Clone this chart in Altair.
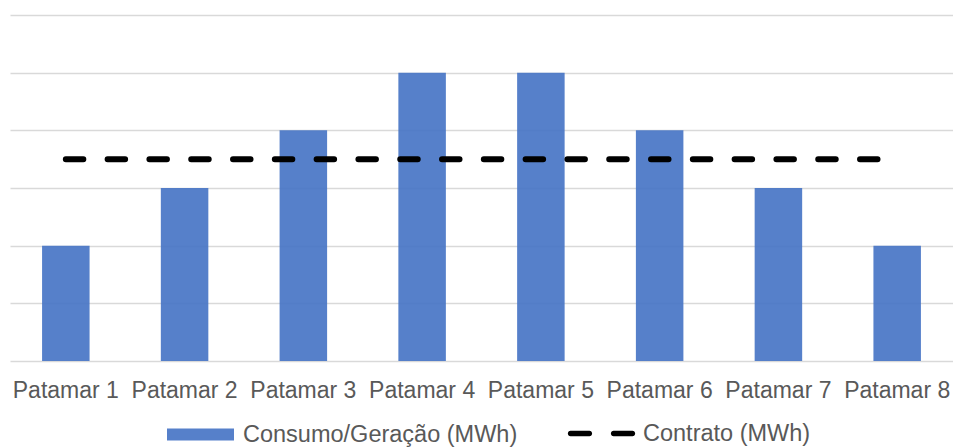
import altair as alt
import pandas as pd

categorias = ["Patamar 1", "Patamar 2", "Patamar 3", "Patamar 4",
              "Patamar 5", "Patamar 6", "Patamar 7", "Patamar 8"]
consumo = [2, 3, 4, 5, 5, 4, 3, 2]
contrato = [3.5, 3.5, 3.5, 3.5, 3.5, 3.5, 3.5, 3.5]
serie_barra = "Consumo/Geração (MWh)"
serie_linha = "Contrato (MWh)"

df_bar = pd.DataFrame({"cat": categorias, "valor": consumo, "serie": serie_barra})
df_line = pd.DataFrame({"cat": categorias, "valor": contrato, "serie": serie_linha})

FONT = "Liberation Sans"
TXT = "#595959"
BLUE = "#4472C4"

rect_path = "M-1,-0.18H1V0.18H-1Z"
dash_path = ("M-0.925,-0.08H-0.36A0.08,0.08 0 0 1 -0.36,0.08H-0.925A0.08,0.08 0 0 1 -0.925,-0.08Z "
             "M0.36,-0.08H0.925A0.08,0.08 0 0 1 0.925,0.08H0.36A0.08,0.08 0 0 1 0.36,-0.08Z")

common_legend = dict(
    title=None,
    orient="none",
    direction="horizontal",
    padding=0,
    labelFont=FONT,
    labelFontSize=23.5,
    labelColor=TXT,
    labelLimit=400,
    labelOffset=8,
    symbolSize=4489,
)

legend_bar = alt.Legend(legendX=156, legendY=385, symbolType=rect_path, **common_legend)
legend_line = alt.Legend(legendX=558, legendY=385, symbolType=dash_path,
                         symbolFillColor="black", symbolStrokeColor="black",
                         symbolStrokeWidth=0, symbolOpacity=1, **common_legend)

x = alt.X(
    "cat:N",
    sort=categorias,
    scale=alt.Scale(paddingInner=0.6, paddingOuter=0.27),
    axis=alt.Axis(title=None, labelAngle=0, ticks=False, domain=False, grid=False,
                  labelFont=FONT, labelFontSize=23, labelColor=TXT, labelPadding=18,
                  labelOverlap=False, labelLimit=300),
)
y = alt.Y(
    "valor:Q",
    scale=alt.Scale(domain=[0, 6], nice=False),
    axis=alt.Axis(title=None, labels=False, ticks=False, domain=False,
                  values=[0, 1, 2, 3, 4, 5, 6], gridColor="#d9d9d9", gridWidth=1.5),
)

bars = alt.Chart(df_bar).mark_bar(opacity=0.9).encode(
    x=x, y=y,
    color=alt.Color("serie:N", scale=alt.Scale(domain=[serie_barra], range=[BLUE]), legend=legend_bar),
)
line = alt.Chart(df_line).mark_line(strokeWidth=6, strokeCap="round", color="black").encode(
    x=alt.X("cat:N", sort=categorias),
    y=alt.Y("valor:Q"),
    strokeDash=alt.StrokeDash("serie:N", scale=alt.Scale(domain=[serie_linha], range=[[17.5, 24.3]]),
                              legend=legend_line),
)

chart = alt.layer(bars, line).resolve_legend(color="independent", strokeDash="independent").properties(
    width=943,
    height=346,
    background="white",
    autosize=alt.AutoSizeParams(type="none"),
    padding={"left": 2, "top": 7, "right": 0, "bottom": 87},
).configure_view(stroke="transparent", strokeWidth=0)

chart.save("out.html", embed_options={"renderer": "svg", "actions": False})
